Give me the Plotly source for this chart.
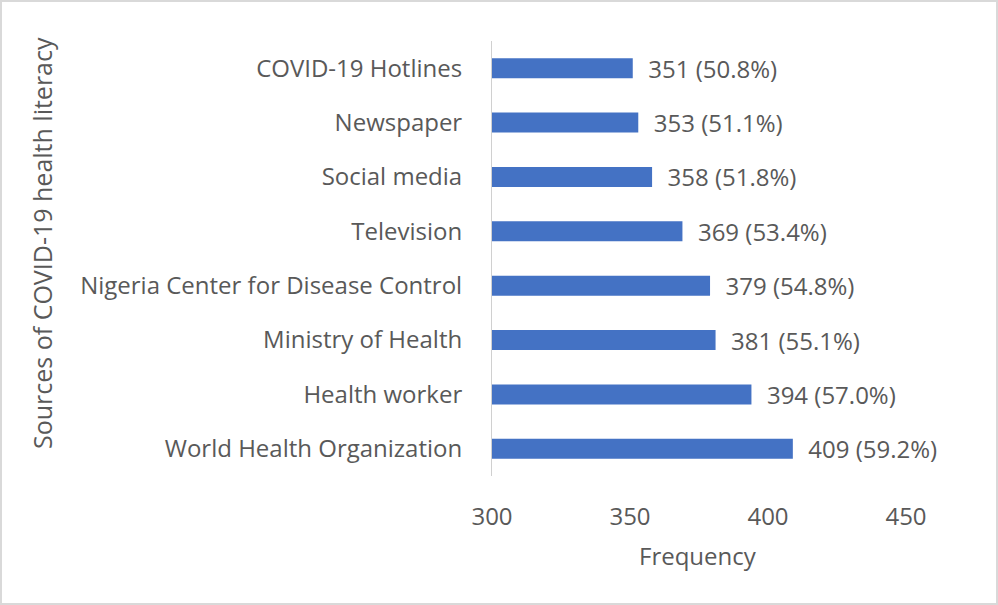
import plotly.graph_objects as go

sources = [
    "COVID-19 Hotlines",
    "Newspaper",
    "Social media",
    "Television",
    "Nigeria Center for Disease Control",
    "Ministry of Health",
    "Health worker",
    "World Health Organization",
]
frequency = [351, 353, 358, 369, 379, 381, 394, 409]
percent = [50.8, 51.1, 51.8, 53.4, 54.8, 55.1, 57.0, 59.2]
x_ticks = [300, 350, 400, 450]

labels = [f"  {f} ({p:.1f}%)" for f, p in zip(frequency, percent)]

TXT = "#595959"
FONT = "Open Sans, Noto Sans, sans-serif"
FS = 24

fig = go.Figure(
    go.Bar(
        x=[f - 300 for f in frequency],
        base=300,
        y=sources,
        orientation="h",
        marker=dict(color="#4472C4", line=dict(width=0)),
        text=labels,
        textposition="outside",
        constraintext="none",
        textfont=dict(size=FS, color=TXT, family=FONT),
        cliponaxis=False,
        hoverinfo="skip",
    )
)

L, R, T, B = 492, 92, 41, 129
W, H = 998, 605
pw, ph = W - L - R, H - T - B

fig.update_layout(
    width=W,
    height=H,
    margin=dict(l=L, r=R, t=T, b=B, autoexpand=False),
    paper_bgcolor="white",
    plot_bgcolor="white",
    bargap=0.63,
    showlegend=False,
    font=dict(family=FONT, color=TXT, size=FS),
    xaxis=dict(
        range=[300, 450],
        tickvals=x_ticks,
        ticktext=[str(v) for v in x_ticks],
        showgrid=False,
        zeroline=False,
        showline=False,
        ticks="",
        tickfont=dict(size=FS, color=TXT),
        ticklabelstandoff=24,
    ),
    yaxis=dict(
        autorange="reversed",
        showgrid=False,
        zeroline=False,
        showline=True,
        linecolor="#d0d0d0",
        linewidth=1,
        ticks="",
        tickfont=dict(size=FS, color=TXT),
        ticklabelstandoff=24,
    ),
    shapes=[
        dict(
            type="rect",
            xref="paper",
            yref="paper",
            x0=(1 - L) / pw,
            x1=(W - 1 - L) / pw,
            y0=(H - B - (H - 1)) / ph,
            y1=(H - B - 1) / ph,
            line=dict(color="#d9d9d9", width=2),
            fillcolor="rgba(0,0,0,0)",
            layer="below",
        )
    ],
    annotations=[
        dict(
            text="Frequency",
            xref="paper",
            yref="paper",
            x=(698 - L) / pw,
            y=(H - B - 555) / ph,
            showarrow=False,
            font=dict(size=FS, color=TXT),
            xanchor="center",
            yanchor="middle",
        ),
        dict(
            text="Sources of COVID-19 health literacy",
            xref="paper",
            yref="paper",
            x=(42 - L) / pw,
            y=(H - B - 243) / ph,
            showarrow=False,
            textangle=-90,
            font=dict(size=25, color=TXT),
            xanchor="center",
            yanchor="middle",
        ),
    ],
)

fig.write_html(
    "out.html",
    config={"displayModeBar": False},
    post_script="document.body.style.margin='0';document.body.style.overflow='hidden';",
)
